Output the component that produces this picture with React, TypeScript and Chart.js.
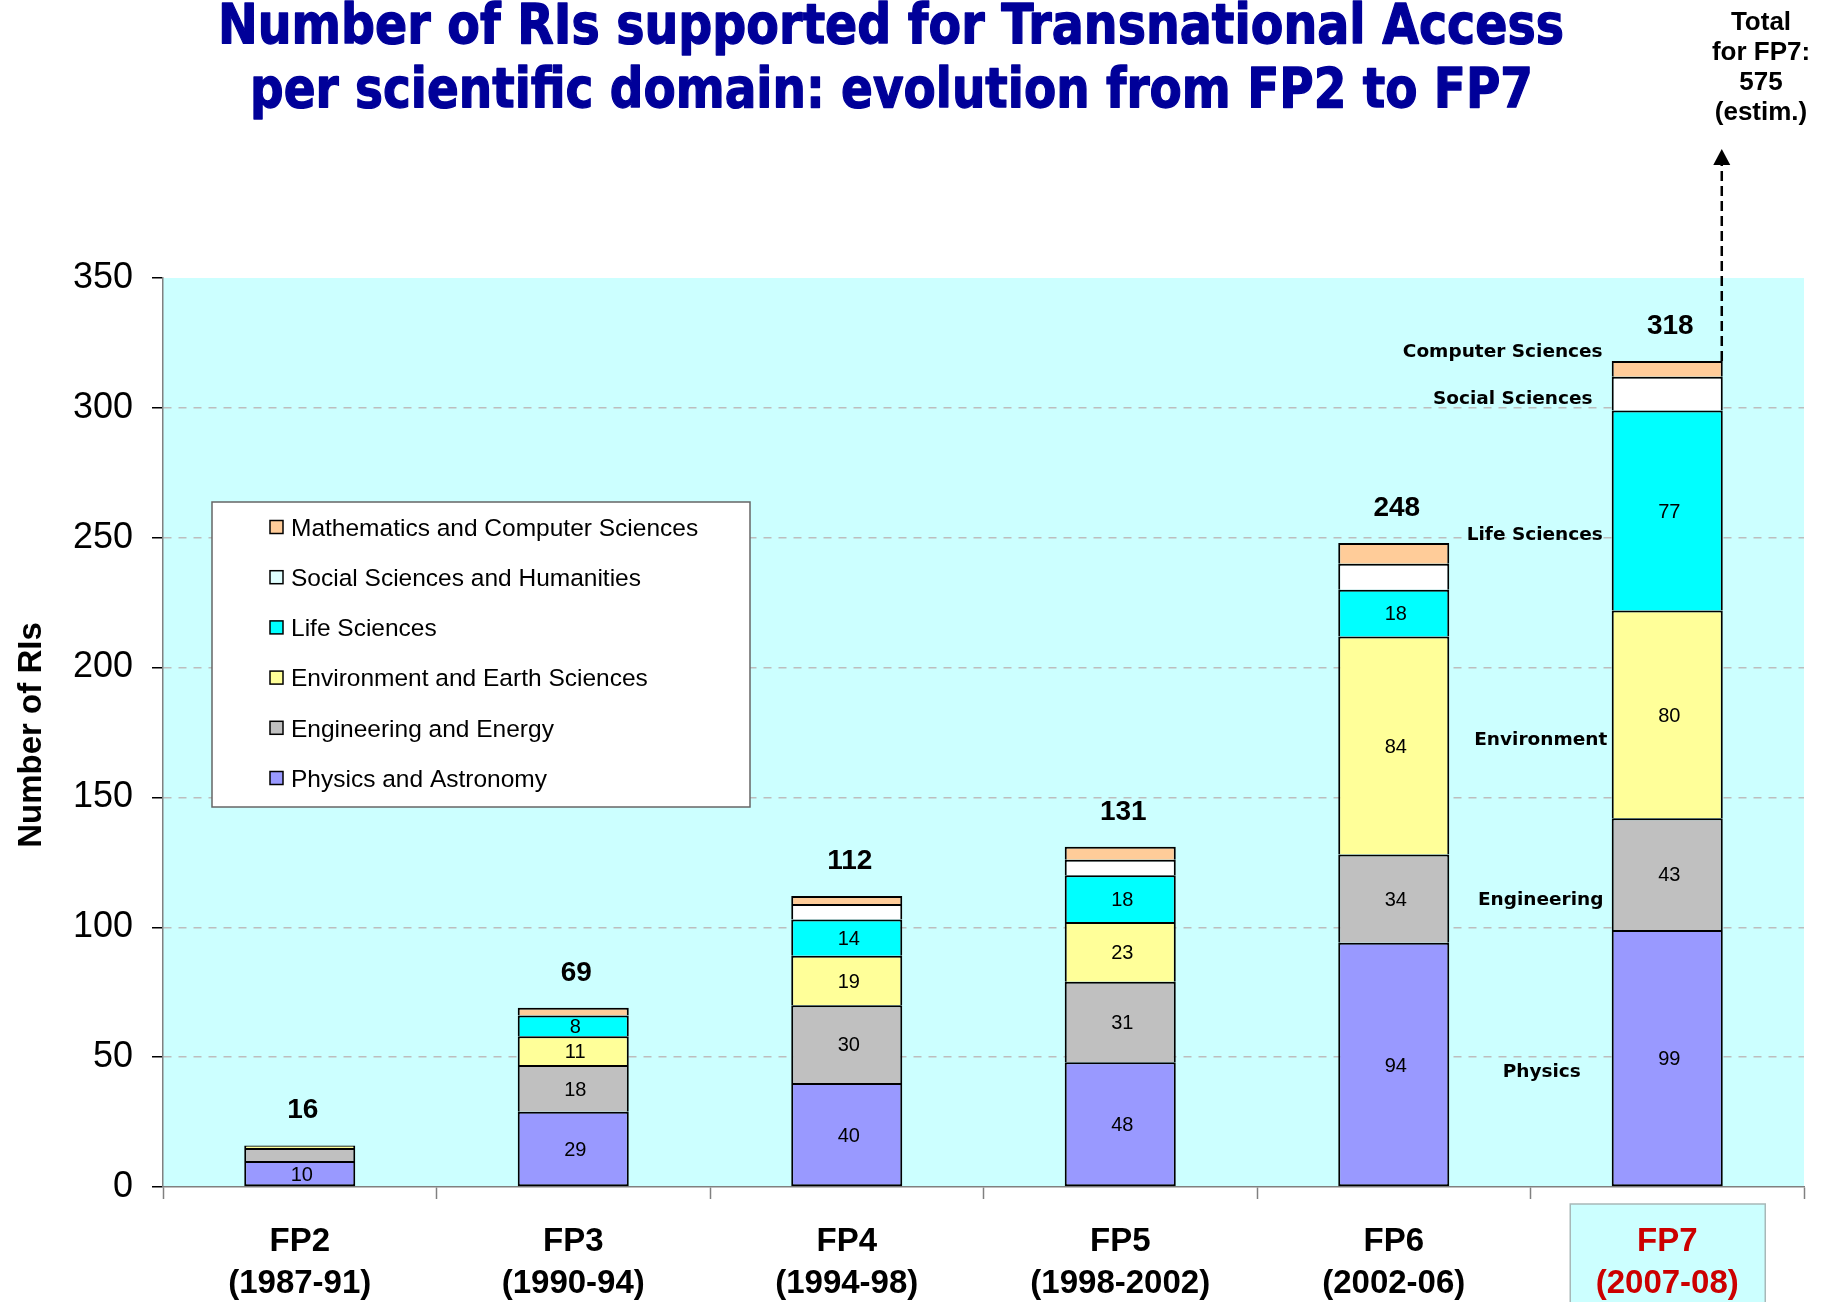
import React, { useEffect, useRef } from 'react';
import { Chart, registerables } from 'chart.js';

Chart.register(...registerables);

const categories = [
  ['FP2', '(1987-91)'],
  ['FP3', '(1990-94)'],
  ['FP4', '(1994-98)'],
  ['FP5', '(1998-2002)'],
  ['FP6', '(2002-06)'],
  ['FP7', '(2007-08)'],
];
const physics = [10, 29, 40, 48, 94, 99];
const engineering = [5, 18, 30, 31, 34, 43];
const environment = [1, 11, 19, 23, 84, 80];
const lifeSciences = [0, 8, 14, 18, 18, 77];
const socialSciences = [0, 0, 6, 6, 10, 13];
const mathematics = [0, 3, 3, 5, 8, 6];
const seriesValues = [physics, engineering, environment, lifeSciences, socialSciences, mathematics];
const seriesNames = [
  'Physics and Astronomy',
  'Engineering and Energy',
  'Environment and Earth Sciences',
  'Life Sciences',
  'Social Sciences and Humanities',
  'Mathematics and Computer Sciences',
];
const seriesColors = ['#9999FF', '#C0C0C0', '#FFFF99', '#00FFFF', '#FFFFFF', '#FFCC99'];
const domainTags = ['Physics', 'Engineering', 'Environment', 'Life Sciences', 'Social Sciences', 'Computer Sciences'];
const titleLines = [
  'Number of RIs supported for Transnational Access',
  'per scientific domain: evolution from FP2 to FP7',
];
const yAxisTitle = 'Number of RIs';
const fp7Note = ['Total', 'for FP7:', '575', '(estim.)'];
const highlightIndex = 5;

const SANS = '"Liberation Sans", Arial, sans-serif';
const VERD = '"DejaVu Sans", Verdana, sans-serif';

function drawFitted(ctx: CanvasRenderingContext2D, text: string, cx: number, baseline: number, font: string, width: number) {
  ctx.save();
  ctx.font = font;
  const w = ctx.measureText(text).width;
  ctx.translate(cx, baseline);
  ctx.scale(width / w, 1.04);
  ctx.textAlign = 'center';
  ctx.textBaseline = 'alphabetic';
  ctx.lineJoin = 'round';
  ctx.strokeStyle = ctx.fillStyle as string;
  ctx.lineWidth = 1.3;
  ctx.fillText(text, 0, 0);
  ctx.strokeText(text, 0, 0);
  ctx.restore();
}

const decorPlugin = {
  id: 'decor',
  beforeDraw(chart: any) {
    const { ctx, chartArea: a, scales } = chart;
    ctx.save();
    ctx.fillStyle = '#CCFFFF';
    ctx.fillRect(a.left, a.top, a.right - a.left, a.bottom - a.top);
    const cx = scales.x.getPixelForValue(highlightIndex);
    ctx.fillStyle = '#CCFFFF';
    ctx.fillRect(cx - 97, 1204, 195, 110);
    ctx.strokeStyle = '#A8B8B8';
    ctx.lineWidth = 1.5;
    ctx.strokeRect(cx - 97, 1204, 195, 110);
    ctx.restore();
  },
  afterDraw(chart: any) {
    const { ctx, scales } = chart;
    const y = scales.y;
    ctx.save();
    ctx.fillStyle = '#000';

    // segment labels
    ctx.font = `20px ${SANS}`;
    ctx.textAlign = 'center';
    ctx.textBaseline = 'alphabetic';
    for (let d = 0; d < 4; d++) {
      const meta = chart.getDatasetMeta(d);
      meta.data.forEach((el: any, i: number) => {
        const v = seriesValues[d][i];
        if (v < 8) return;
        const cy = (el.y + el.base) / 2;
        ctx.fillText(String(v), el.x + 2, cy + 7.2);
      });
    }

    // totals
    ctx.font = `bold 28px ${SANS}`;
    const meta0 = chart.getDatasetMeta(0);
    categories.forEach((_, i) => {
      const total = seriesValues.reduce((s, arr) => s + arr[i], 0);
      const el = meta0.data[i];
      ctx.fillText(String(total), el.x + 3, y.getPixelForValue(total) - 27);
    });

    // domain tags next to FP7 bar
    const fp7 = meta0.data[highlightIndex];
    const barLeft = fp7.x - fp7.width / 2;
    const barRight = fp7.x + fp7.width / 2;
    const tagPos = [
      [-70, 44.8],
      [-71, 111.3],
      [-71, 172.8],
      [-77, 251.6],
      [-99, 303.9],
      [-109, 322],
    ];
    ctx.font = `bold 18.5px ${VERD}`;
    domainTags.forEach((t, i) => {
      ctx.fillText(t, barLeft + tagPos[i][0], y.getPixelForValue(tagPos[i][1]) + 6.7);
    });

    // dashed arrow
    const fp7Total = seriesValues.reduce((s, arr) => s + arr[highlightIndex], 0);
    const ax = barRight - 1;
    ctx.strokeStyle = '#000';
    ctx.lineWidth = 2.5;
    ctx.setLineDash([10, 5]);
    ctx.beginPath();
    ctx.moveTo(ax, y.getPixelForValue(fp7Total));
    ctx.lineTo(ax, 164);
    ctx.stroke();
    ctx.setLineDash([]);
    ctx.beginPath();
    ctx.moveTo(ax, 149);
    ctx.lineTo(ax - 8.5, 165);
    ctx.lineTo(ax + 8.5, 165);
    ctx.closePath();
    ctx.fill();

    // note text
    ctx.font = `bold 26px ${SANS}`;
    fp7Note.forEach((line, i) => {
      ctx.fillText(line, 1761, 30 + i * 30);
    });

    // legend
    const lx = 212, ly = 502, lw = 538, lh = 305;
    ctx.fillStyle = '#FFFFFF';
    ctx.fillRect(lx, ly, lw, lh);
    ctx.strokeStyle = '#666';
    ctx.lineWidth = 1.5;
    ctx.strokeRect(lx, ly, lw, lh);
    ctx.font = `24.5px ${SANS}`;
    ctx.textAlign = 'left';
    for (let k = 0; k < 6; k++) {
      const d = 5 - k;
      const cy = 527 + k * 50.2;
      ctx.fillStyle = d === 4 ? '#E0FFFF' : seriesColors[d];
      ctx.fillRect(270, cy - 6.5, 13, 13);
      ctx.strokeStyle = '#000';
      ctx.lineWidth = 1.5;
      ctx.strokeRect(270, cy - 6.5, 13, 13);
      ctx.fillStyle = '#000';
      ctx.fillText(seriesNames[d], 291, cy + 8.7);
    }

    // title
    ctx.fillStyle = '#000099';
    drawFitted(ctx, titleLines[0], 891, 43, `bold 53px ${VERD}`, 1346);
    drawFitted(ctx, titleLines[1], 891.5, 106.7, `bold 53px ${VERD}`, 1283);

    // y axis title
    ctx.fillStyle = '#000';
    ctx.font = `bold 33px ${SANS}`;
    ctx.translate(40.5, 735);
    ctx.rotate(-Math.PI / 2);
    ctx.textAlign = 'center';
    ctx.fillText(yAxisTitle, 0, 0);
    ctx.restore();
  },
};

export default function App() {
  const ref = useRef<HTMLCanvasElement>(null);
  useEffect(() => {
    const canvas = ref.current;
    if (!canvas) return;
    const chart = new Chart(canvas, {
      type: 'bar',
      data: {
        labels: categories,
        datasets: seriesNames.map((name, i) => ({
          label: name,
          data: seriesValues[i],
          backgroundColor: seriesColors[i],
          borderColor: '#000000',
          borderWidth: 2,
          borderSkipped: i === 0 ? false : 'start',
          barPercentage: 0.406,
          categoryPercentage: 1,
        })),
      },
      options: {
        responsive: false,
        animation: false,
        devicePixelRatio: 1,
        layout: { padding: { top: 278, right: 23, left: 0, bottom: 0 } },
        plugins: {
          legend: { display: false },
          title: { display: false },
          tooltip: { enabled: false },
        },
        scales: {
          x: {
            stacked: true,
            grid: {
              offset: true,
              drawOnChartArea: false,
              drawTicks: true,
              tickLength: 12,
              tickColor: '#808080',
              tickWidth: 1.5,
            },
            border: { color: '#808080', width: 1.5 },
            ticks: {
              autoSkip: false,
              maxRotation: 0,
              padding: 21,
              font: { family: SANS, size: 33, weight: 'bold', lineHeight: 1.3 },
              color: (c: any) => (c.index === highlightIndex ? '#CC0000' : '#000000'),
            },
            afterFit: (s: any) => {
              s.height = 115;
            },
          },
          y: {
            stacked: true,
            min: 0,
            max: 350,
            ticks: {
              stepSize: 50,
              padding: 19,
              color: '#000000',
              font: { family: SANS, size: 36 },
            },
            grid: {
              color: (c: any) =>
                c.tick && (c.tick.value === 0 || c.tick.value === 350) ? 'rgba(0,0,0,0)' : '#BDBDBD',
              lineWidth: 1.5,
              tickLength: 11,
              tickColor: '#000000',
              tickWidth: 1.5,
              tickBorderDash: [],
            },
            border: { color: '#808080', width: 1.5, dash: [8, 7] },
            afterFit: (s: any) => {
              s.width = 163;
            },
          },
        },
      },
      plugins: [decorPlugin],
    } as any);
    return () => chart.destroy();
  }, []);
  return (
    <div style={{ position: 'absolute', left: 0, top: 0, width: 1827, height: 1302 }}>
      <canvas ref={ref} width={1827} height={1302} style={{ display: 'block' }} />
    </div>
  );
}
